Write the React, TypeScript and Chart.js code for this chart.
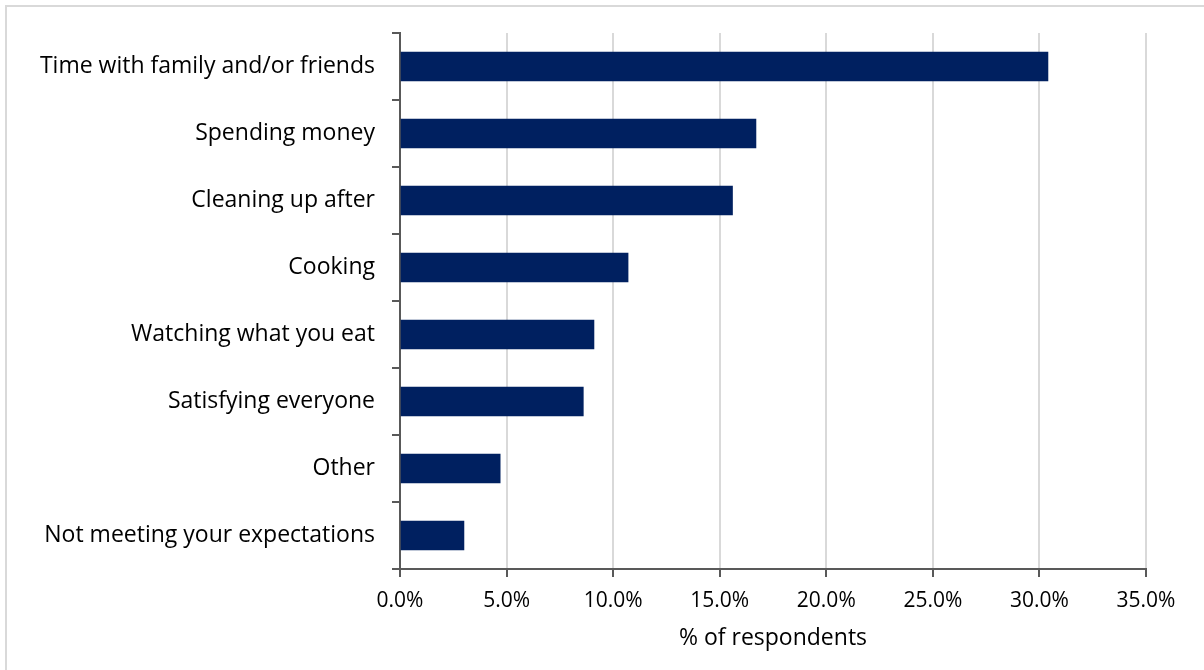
import React, { useEffect, useRef } from "react";
import { Chart, registerables } from "chart.js";

Chart.register(...registerables);

const categories = [
  "Time with family and/or friends",
  "Spending money",
  "Cleaning up after",
  "Cooking",
  "Watching what you eat",
  "Satisfying everyone",
  "Other",
  "Not meeting your expectations",
];
const values = [30.4, 16.7, 15.6, 10.7, 9.1, 8.6, 4.7, 3.0];
const xTicks = [0, 5, 10, 15, 20, 25, 30, 35];
const xTitle = "% of respondents";

const FONT = "'Open Sans'";

export default function App() {
  const ref = useRef<HTMLCanvasElement | null>(null);
  useEffect(() => {
    if (!ref.current) return;
    const chart = new Chart(ref.current, {
      type: "bar",
      data: {
        labels: categories,
        datasets: [
          {
            data: values,
            backgroundColor: "#002060",
            borderWidth: 0,
            barThickness: 29,
          },
        ],
      },
      options: {
        indexAxis: "y",
        animation: false,
        responsive: false,
        maintainAspectRatio: false,
        layout: { padding: { left: 0, right: 58, top: 33, bottom: 0 } },
        plugins: { legend: { display: false }, tooltip: { enabled: false } },
        scales: {
          x: {
            min: 0,
            max: 35,
            afterBuildTicks: (s: any) => {
              s.ticks = xTicks.map((v) => ({ value: v }));
            },
            afterFit: (s: any) => {
              s.height = 101;
            },
            grid: {
              color: "#d9d9d9",
              lineWidth: 2,
              tickColor: "#595959",
              tickLength: 8,
            },
            border: { color: "#595959", width: 2 },
            ticks: {
              color: "#000",
              font: { family: FONT, size: 21 },
              padding: 11,
              callback: (v: any) => Number(v).toFixed(1) + "%",
            },
            title: {
              display: true,
              text: xTitle,
              color: "#000",
              font: { family: FONT, size: 23 },
              padding: { top: 6, bottom: 18 },
            },
          },
          y: {
            afterFit: (s: any) => {
              s.width = 400;
            },
            grid: {
              drawOnChartArea: false,
              color: "#595959",
              tickColor: "#595959",
              lineWidth: 2,
              tickLength: 8,
              offset: true,
            },
            border: { color: "#595959", width: 2 },
            ticks: {
              color: "#000",
              font: { family: FONT, size: 23 },
              padding: 17,
            },
          },
        },
      },
    });
    return () => chart.destroy();
  }, []);
  return (
    <div
      style={{
        position: "fixed",
        left: 0,
        top: 0,
        width: 1204,
        height: 670,
        overflow: "hidden",
        background: "#fff",
      }}
    >
      <div
        style={{
          position: "absolute",
          left: 5,
          top: 5,
          width: 1300,
          height: 800,
          border: "2px solid #d9d9d9",
        }}
      />
      <canvas
        ref={ref}
        width={1204}
        height={670}
        style={{ position: "absolute", left: 0, top: 0, width: 1204, height: 670 }}
      />
    </div>
  );
}
